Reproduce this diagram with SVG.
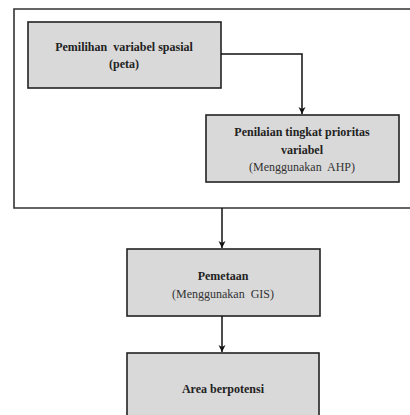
<svg xmlns="http://www.w3.org/2000/svg" width="410" height="415" viewBox="0 0 410 415">
<style>
.box{fill:#d9d9d9;stroke:#222;stroke-width:1.6}
.frame{fill:#fff;stroke:#333;stroke-width:1.6}
.b{font-family:'Liberation Serif','Times New Roman',Times,'DejaVu Serif',serif;font-size:12px;font-weight:bold;fill:#222;text-anchor:middle}
.n{font-family:'Liberation Serif','Times New Roman',Times,'DejaVu Serif',serif;font-size:12px;fill:#333;text-anchor:middle}
.c{fill:none;stroke:#111;stroke-width:1.5}
</style>
<defs>
<marker id="ah" markerWidth="8" markerHeight="8" refX="7" refY="4" orient="auto" markerUnits="userSpaceOnUse">
<path d="M0,0.5 L7,4 L0,7.5 L2,4 Z" fill="#111"/>
</marker>
</defs>
<rect width="410" height="415" fill="#fff"/>
<path class="frame" d="M412,9 L14,9 L14,208 L412,208"/>
<g id="n1">
<rect class="box" x="28" y="22" width="193" height="66"/>
<text class="b" x="124" y="51" xml:space="preserve">Pemilihan  variabel spasial</text>
<text class="b" x="124" y="68">(peta)</text>
</g>
<g id="n2">
<rect class="box" x="206" y="115" width="193" height="67"/>
<text class="b" x="302" y="136">Penilaian tingkat prioritas</text>
<text class="b" x="302" y="154">variabel</text>
<text class="n" x="302" y="171" xml:space="preserve">(Menggunakan  AHP)</text>
</g>
<g id="n3">
<rect class="box" x="127" y="249" width="193" height="67"/>
<text class="b" x="223" y="280">Pemetaan</text>
<text class="n" x="223" y="298" xml:space="preserve">(Menggunakan  GIS)</text>
</g>
<g id="n4">
<rect class="box" x="127" y="353" width="192" height="70"/>
<text class="b" x="223" y="393">Area berpotensi</text>
</g>
<g id="connectors">
<path class="c" d="M221,54 L302,54 L302,114" marker-end="url(#ah)"/>
<path class="c" d="M222,208 L222,248" marker-end="url(#ah)"/>
<path class="c" d="M222,316 L222,352" marker-end="url(#ah)"/>
</g>
</svg>
